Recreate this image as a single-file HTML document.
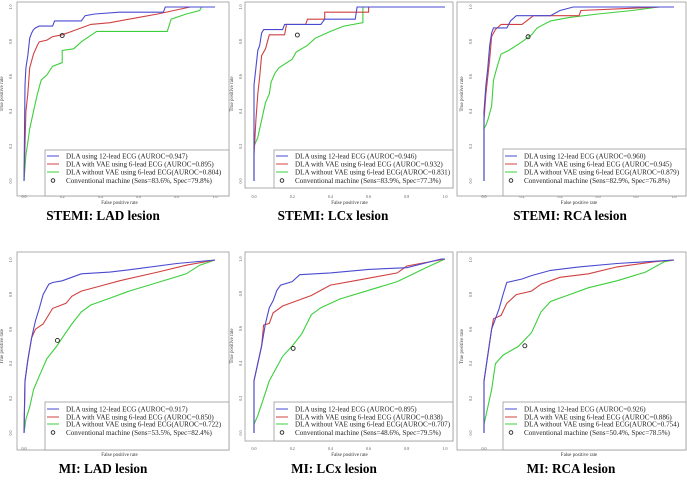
<!DOCTYPE html>
<html><head><meta charset="utf-8"><style>
html,body{margin:0;padding:0;background:#fff;}
svg{display:block;font-family:"Liberation Serif",serif;}
</style></head><body>
<svg id="fig" width="687" height="484" viewBox="0 0 687 484" xmlns="http://www.w3.org/2000/svg"></svg>
<script>
// ---- data ----
const panelTitles = ["STEMI: LAD lesion","STEMI: LCx lesion","STEMI: RCA lesion","MI: LAD lesion","MI: LCx lesion","MI: RCA lesion"];
const seriesNames = ["DLA using 12-lead ECG","DLA with VAE using 6-lead ECG","DLA without VAE using 6-lead ECG"];
const seriesColors = ["#4a4ad0","#d04040","#3ccf3c"];
const aurocs = [
  ["0.947","0.895","0.804"],["0.946","0.932","0.831"],["0.960","0.945","0.879"],
  ["0.917","0.850","0.722"],["0.895","0.838","0.707"],["0.926","0.886","0.754"]];
const convLabels = ["Sens=83.6%, Spec=79.8%","Sens=83.9%, Spec=77.3%","Sens=82.9%, Spec=76.8%",
  "Sens=53.5%, Spec=82.4%","Sens=48.6%, Spec=79.5%","Sens=50.4%, Spec=78.5%"];
const convPoints = [[0.20,0.836],[0.227,0.839],[0.232,0.829],[0.175,0.535],[0.205,0.486],[0.215,0.504]];
const tickLabels = ["0.0","0.2","0.4","0.6","0.8","1.0"];
const tickValues = [0,0.2,0.4,0.6,0.8,1.0];
const rocBlue = [
 [[0,0],[0.005,0.55],[0.01,0.65],[0.02,0.72],[0.03,0.82],[0.04,0.85],[0.05,0.87],[0.06,0.88],[0.08,0.89],[0.15,0.89],[0.16,0.92],[0.3,0.92],[0.32,0.95],[0.37,0.96],[0.5,0.97],[0.73,0.97],[0.74,1],[1,1]],
 [[0,0],[0,0.55],[0.01,0.65],[0.02,0.75],[0.03,0.78],[0.04,0.85],[0.05,0.87],[0.15,0.87],[0.16,0.9],[0.35,0.9],[0.37,0.93],[0.53,0.93],[0.54,1],[1,1]],
 [[0,0],[0,0.4],[0.01,0.55],[0.02,0.65],[0.03,0.78],[0.04,0.85],[0.05,0.88],[0.12,0.88],[0.14,0.92],[0.17,0.95],[0.35,0.95],[0.4,0.98],[0.47,1],[1,1]],
 [[0,0],[0.005,0.3],[0.02,0.42],[0.04,0.55],[0.06,0.65],[0.08,0.72],[0.1,0.8],[0.13,0.86],[0.15,0.87],[0.2,0.88],[0.25,0.9],[0.3,0.92],[0.45,0.93],[0.6,0.95],[0.8,0.98],[1,1]],
 [[0,0],[0,0.3],[0.02,0.4],[0.04,0.5],[0.06,0.63],[0.08,0.72],[0.1,0.76],[0.12,0.82],[0.14,0.85],[0.2,0.87],[0.24,0.91],[0.4,0.92],[0.6,0.94],[0.8,0.95],[0.98,1],[1,1]],
 [[0,0],[0,0.3],[0.02,0.45],[0.04,0.6],[0.06,0.66],[0.08,0.72],[0.1,0.8],[0.12,0.87],[0.2,0.89],[0.25,0.91],[0.35,0.94],[0.5,0.96],[0.7,0.98],[1,1]]];
const rocRed = [
 [[0,0],[0.01,0.4],[0.02,0.5],[0.03,0.65],[0.05,0.73],[0.07,0.78],[0.08,0.8],[0.12,0.81],[0.15,0.83],[0.2,0.84],[0.25,0.86],[0.35,0.9],[0.45,0.91],[0.6,0.94],[0.7,0.96],[0.87,1],[1,1]],
 [[0,0],[0,0.15],[0.01,0.35],[0.02,0.5],[0.03,0.6],[0.04,0.72],[0.06,0.76],[0.07,0.8],[0.08,0.84],[0.16,0.84],[0.17,0.9],[0.27,0.9],[0.28,0.93],[0.37,0.93],[0.37,0.97],[0.6,0.97],[0.6,1],[1,1]],
 [[0,0],[0,0.35],[0.01,0.5],[0.03,0.7],[0.04,0.83],[0.06,0.87],[0.09,0.9],[0.2,0.9],[0.26,0.95],[0.5,0.95],[0.51,0.98],[0.93,1],[1,1]],
 [[0,0],[0.005,0.3],[0.02,0.42],[0.04,0.55],[0.06,0.6],[0.1,0.63],[0.15,0.72],[0.22,0.75],[0.25,0.79],[0.3,0.82],[0.4,0.85],[0.5,0.88],[0.7,0.93],[0.85,0.97],[1,1]],
 [[0,0],[0,0.3],[0.02,0.4],[0.04,0.5],[0.05,0.62],[0.08,0.63],[0.1,0.69],[0.15,0.73],[0.2,0.75],[0.3,0.79],[0.4,0.85],[0.55,0.88],[0.75,0.92],[0.8,0.96],[1,1]],
 [[0,0],[0,0.3],[0.02,0.45],[0.04,0.6],[0.05,0.66],[0.09,0.68],[0.12,0.75],[0.17,0.8],[0.25,0.82],[0.3,0.86],[0.4,0.9],[0.55,0.92],[0.7,0.96],[0.9,0.99],[1,1]]];
const rocGreen = [
 [[0,0],[0.01,0.15],[0.02,0.22],[0.03,0.3],[0.05,0.4],[0.07,0.5],[0.09,0.58],[0.12,0.61],[0.15,0.66],[0.2,0.68],[0.2,0.75],[0.26,0.76],[0.3,0.8],[0.38,0.86],[0.75,0.86],[0.77,0.93],[0.85,0.96],[0.92,0.98],[0.93,1],[1,1]],
 [[0,0],[0,0.2],[0.02,0.25],[0.04,0.35],[0.06,0.45],[0.08,0.5],[0.09,0.57],[0.11,0.62],[0.13,0.65],[0.2,0.7],[0.22,0.74],[0.28,0.78],[0.32,0.82],[0.4,0.86],[0.47,0.89],[0.57,0.91],[0.57,1],[1,1]],
 [[0,0],[0,0.3],[0.01,0.32],[0.02,0.35],[0.04,0.43],[0.05,0.58],[0.07,0.66],[0.09,0.73],[0.13,0.75],[0.2,0.8],[0.25,0.84],[0.28,0.88],[0.35,0.92],[0.45,0.94],[0.6,0.96],[0.78,0.98],[0.92,1],[1,1]],
 [[0,0],[0.01,0.08],[0.03,0.15],[0.05,0.25],[0.08,0.33],[0.12,0.43],[0.17,0.5],[0.2,0.55],[0.25,0.63],[0.3,0.7],[0.35,0.74],[0.45,0.78],[0.55,0.82],[0.7,0.87],[0.85,0.92],[0.92,0.97],[1,1]],
 [[0,0],[0,0.05],[0.02,0.1],[0.05,0.2],[0.08,0.3],[0.12,0.38],[0.15,0.44],[0.2,0.5],[0.25,0.57],[0.3,0.68],[0.35,0.72],[0.45,0.77],[0.6,0.82],[0.75,0.87],[0.9,0.95],[1,1]],
 [[0,0],[0,0.05],[0.02,0.15],[0.04,0.25],[0.06,0.4],[0.1,0.45],[0.18,0.5],[0.25,0.58],[0.3,0.7],[0.35,0.76],[0.45,0.8],[0.55,0.84],[0.7,0.88],[0.85,0.93],[0.95,0.99],[1,1]]];

// ---- layout ----
const NS="http://www.w3.org/2000/svg";
const svg=document.getElementById('fig');
const layout=[
 {x0:24,x1:215,y0:181,y1:7,box:[17,2,229,196],lg:[45,150],ly:[156,164,172,180.5],ty:220,tx:103},
 {x0:254,x1:445,y0:181,y1:7,box:[245,2,453,188],lg:[274,150],ly:[156,164,172,180.5],ty:220,tx:333},
 {x0:484,x1:674,y0:181,y1:7,box:[457,2,686,196],lg:[503,149],ly:[156,164,172,180.5],ty:220,tx:570},
 {x0:24,x1:215,y0:433,y1:260,box:[17,252,229,450],lg:[45,402],ly:[409,417,424,432.5],ty:473,tx:103},
 {x0:254,x1:445,y0:433,y1:259,box:[245,252,453,441],lg:[274,402],ly:[409,417,424,432.5],ty:473,tx:334},
 {x0:484,x1:674,y0:433,y1:260,box:[457,252,686,450],lg:[503,402],ly:[409,417,424,432.5],ty:473,tx:571}];
function mk(tag,attrs,parent,text){const e=document.createElementNS(NS,tag);for(const k in attrs)e.setAttribute(k,attrs[k]);if(text!==undefined)e.textContent=text;(parent||svg).appendChild(e);return e;}

layout.forEach((L,i)=>{
  const sx=v=>L.x0+v*(L.x1-L.x0);
  const sy=v=>L.y0-v*(L.y0-L.y1);
  const g=mk('g',{});
  
  
  const b=L.box;
  const box=mk('rect',{x:b[0],y:b[1],width:b[2]-b[0],height:b[3]-b[1],fill:'none',stroke:'#999','stroke-width':0.8},g);
  
  
  tickValues.forEach((t,k)=>{
    const xt=mk('text',{x:sx(t),y:L.y0+17,'font-size':4,'text-anchor':'middle',fill:'#555'},g,tickLabels[k]);
    
    
    const yx=L.x0-12, yy=sy(t);
    const yt=mk('text',{x:yx,y:yy,'font-size':4,'text-anchor':'middle',fill:'#555',transform:`rotate(-90 ${yx} ${yy})`},g,tickLabels[k]);
    
    
  });
  const xl=mk('text',{x:(L.x0+L.x1)/2,y:L.y0+23,'font-size':5,'text-anchor':'middle',fill:'#333'},g,'False positive rate');
  
  
  const ay=(L.y0+L.y1)/2;
  const yl=mk('text',{x:L.x0-21,y:ay,'font-size':5,'text-anchor':'middle',fill:'#333',transform:`rotate(-90 ${L.x0-21} ${ay})`},g,'True positive rate');
  
  
  const sets=[rocGreen[i],rocRed[i],rocBlue[i]];
  const cols=[seriesColors[2],seriesColors[1],seriesColors[0]];
  const names=['roc-curve-without-vae','roc-curve-with-vae','roc-curve-12-lead'];
  sets.forEach((pts,s)=>{
    const p=mk('polyline',{points:pts.map(q=>sx(q[0]).toFixed(1)+','+sy(q[1]).toFixed(1)).join(' '),fill:'none',stroke:cols[s],'stroke-width':1.1},g);
    
    
  });
  const cp=mk('circle',{cx:sx(convPoints[i][0]),cy:sy(convPoints[i][1]),r:2,fill:'none',stroke:'#222','stroke-width':0.9},g);
  
  
  const lg=mk('g',{},g);
  
  
  const lb=mk('rect',{x:L.lg[0],y:L.lg[1],width:b[2]-L.lg[0],height:b[3]-L.lg[1],fill:'#fff',stroke:'#999','stroke-width':0.8},lg);
  
  
  for(let s=0;s<3;s++){
    const y=L.ly[s];
    const ln=mk('line',{x1:L.lg[0]+2,x2:L.lg[0]+14,y1:y,y2:y,stroke:seriesColors[s],'stroke-width':1},lg);
    
    
    const label=seriesNames[s]+(s<2?' (AUROC=':'(AUROC=')+aurocs[i][s]+')';
    const t=mk('text',{x:L.lg[0]+21,y:y+2.5,'font-size':7.1,fill:'#222'},lg,label);
    
    
  }
  const y=L.ly[3];
  const lc=mk('circle',{cx:L.lg[0]+8,cy:y,r:1.8,fill:'none',stroke:'#222','stroke-width':0.9},lg);
  
  
  const t=mk('text',{x:L.lg[0]+21,y:y+2.5,'font-size':7.1,fill:'#222'},lg,'Conventional machine ('+convLabels[i]+')');
  
  
  const tt=mk('text',{x:L.tx,y:L.ty,'font-size':13.2,'font-weight':'bold','text-anchor':'middle',fill:'#000'},g,panelTitles[i]);
  
  
});
</script>
</body></html>
